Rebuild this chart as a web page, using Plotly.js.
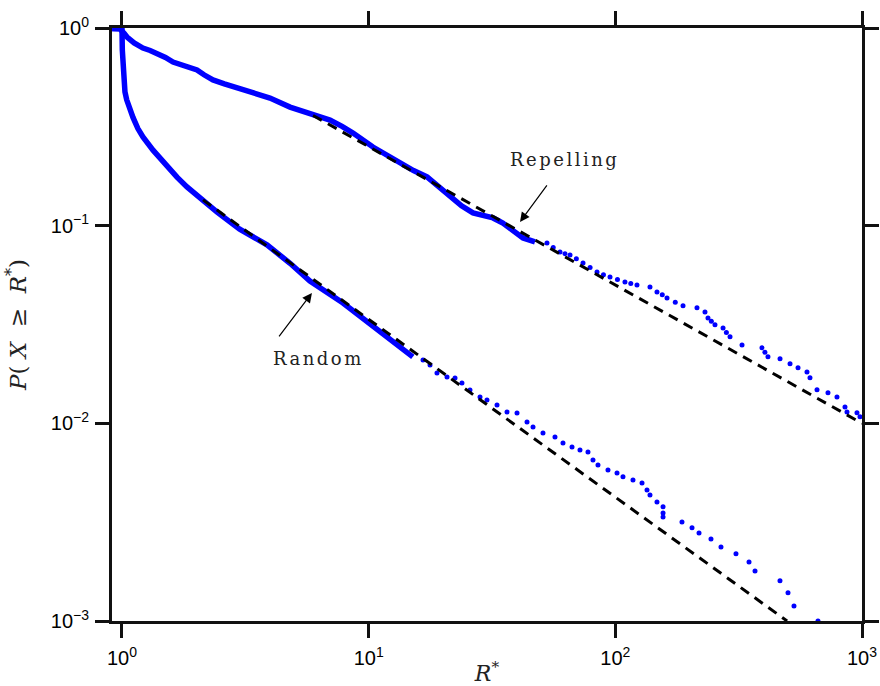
<!DOCTYPE html>
<html>
<head>
<meta charset="utf-8">
<script src="https://cdn.plot.ly/plotly-3.0.1.min.js"></script>
<style>html,body{margin:0;padding:0;background:#fff;}#chart{width:880px;height:686px;}</style>
</head>
<body>
<div id="chart"></div>
<script>
// ---- Random: dense (continuous) part ----
var randomLineX = [0.91, 1.0, 1.003, 1.009, 1.019, 1.028, 1.045, 1.077, 1.108, 1.16, 1.216, 1.336, 1.426, 1.52, 1.671, 1.834, 2.07, 2.43, 3.0, 3.87, 4.8, 5.78, 7.87, 10.8, 15.1];
var randomLineY = [0.995, 0.99, 0.774, 0.635, 0.527, 0.475, 0.433, 0.385, 0.353, 0.31, 0.281, 0.241, 0.22, 0.198, 0.176, 0.157, 0.138, 0.117, 0.096, 0.080, 0.0645, 0.0525, 0.0406, 0.0297, 0.0217];
// ---- Random: sparse tail ----
var randomTailX = [16.61, 17.73, 18.92, 20.78, 22.39, 23.89, 25.75, 28.28, 30.18, 33.14, 36.38, 39.94, 43.85, 46.37, 50.9, 56.93, 61.35, 66.73, 71.9, 77.47, 81.17, 85.05, 93.37, 101.6, 107.4, 117.9, 128.3, 134.4, 138.2, 147.5, 156.1, 156.1, 156.1, 186.3, 204.6, 218.4, 244.2, 268.1, 308.4, 348.3, 368.4, 465.1, 501.2, 530.0, 663.1];
var randomTailY = [0.02093, 0.01975, 0.01799, 0.01717, 0.01697, 0.01601, 0.01476, 0.0136, 0.01313, 0.01239, 0.01142, 0.01129, 0.01017, 0.00959, 0.00894, 0.00854, 0.00796, 0.0076, 0.00734, 0.00717, 0.00653, 0.00616, 0.00581, 0.00561, 0.00536, 0.00517, 0.00499, 0.0046, 0.00434, 0.004, 0.00378, 0.00352, 0.00336, 0.00317, 0.00296, 0.00279, 0.0026, 0.00237, 0.00219, 0.00199, 0.00179, 0.0016, 0.00139, 0.00119, 0.001];
// ---- Repelling: dense part ----
var repelLineX = [0.91, 0.981, 1.02, 1.048, 1.12, 1.216, 1.3, 1.386, 1.5, 1.61, 1.8, 2.014, 2.15, 2.338, 2.6, 2.925, 3.4, 3.98, 4.8, 5.78, 6.97, 7.8, 8.64, 10.41, 11.8, 13.4, 15.2, 17.24, 19.2, 21.37, 23.8, 26.48, 28.9, 31.92, 35.0, 38.46, 42.23, 47.24];
var repelLineY = [0.995, 0.99, 0.94, 0.9, 0.84, 0.792, 0.77, 0.747, 0.71, 0.673, 0.645, 0.613, 0.58, 0.546, 0.522, 0.497, 0.47, 0.442, 0.398, 0.372, 0.342, 0.318, 0.294, 0.25, 0.228, 0.2076, 0.19, 0.1764, 0.157, 0.1397, 0.126, 0.116, 0.1125, 0.1094, 0.103, 0.0951, 0.0867, 0.0827];
// ---- Repelling: sparse tail ----
var repelTailX = [52.84, 56.0, 59.66, 62.5, 65.51, 69.5, 73.96, 79.0, 84.27, 89.5, 95.15, 102.0, 109.4, 115.5, 122.4, 138.2, 147.5, 155.0, 162.0, 175.0, 188.1, 214.3, 230.9, 237.5, 245.0, 253.5, 273.3, 282.0, 291.7, 326.3, 393.1, 404.0, 415.7, 465.2, 510.7, 550.3, 598.4, 615.4, 657.0, 727.9, 791.7, 853.1, 869.2, 954.3, 981.3];
var repelTailY = [0.0817, 0.0775, 0.0736, 0.0722, 0.0711, 0.068, 0.0648, 0.0615, 0.0583, 0.0565, 0.055, 0.0534, 0.0519, 0.051, 0.0501, 0.049, 0.0462, 0.0447, 0.0431, 0.041, 0.0393, 0.0384, 0.0366, 0.0341, 0.0328, 0.0315, 0.0304, 0.0288, 0.0274, 0.0249, 0.0241, 0.0229, 0.0217, 0.0212, 0.02, 0.0191, 0.0182, 0.017, 0.0148, 0.0143, 0.0136, 0.0121, 0.0114, 0.0113, 0.0108];
// ---- Power-law fit lines (endpoints) ----
var repelFitX = [5.95, 1000];
var repelFitY = [0.361, 0.01];
var randomFitX = [2.13, 497];
var randomFitY = [0.135, 0.001];
// ---- Ticks ----
var xTickVals = [1, 10, 100, 1000];
var xTickText = ['10<sup>0</sup>', '10<sup>1</sup>', '10<sup>2</sup>', '10<sup>3</sup>'];
var yTickVals = [1, 0.1, 0.01, 0.001];
var yTickText = ['10<sup>0</sup>', '10<sup>\u22121</sup>', '10<sup>\u22122</sup>', '10<sup>\u22123</sup>'];
// ---- Annotation anchors (data values) ----
var repelArrowHead = [41.07, 0.1044];
var randomArrowHead = [5.89, 0.0457];
var repelLabelPos = [62.5, 0.215];
var randomLabelPos = [6.29, 0.0214];

var blue = '#0000ff';
var traces = [
  {x: randomLineX, y: randomLineY, mode: 'lines', line: {color: blue, width: 5.5}, hoverinfo: 'skip', cliponaxis: false},
  {x: randomTailX, y: randomTailY, mode: 'markers', marker: {color: blue, size: 5}, hoverinfo: 'skip', cliponaxis: false},
  {x: repelLineX, y: repelLineY, mode: 'lines', line: {color: blue, width: 5.5}, hoverinfo: 'skip', cliponaxis: false},
  {x: repelTailX, y: repelTailY, mode: 'markers', marker: {color: blue, size: 5}, hoverinfo: 'skip', cliponaxis: false},
  {x: repelFitX, y: repelFitY, mode: 'lines', line: {color: '#000', width: 3, dash: '10px,7px'}, hoverinfo: 'skip'},
  {x: randomFitX, y: randomFitY, mode: 'lines', line: {color: '#000', width: 3, dash: '10px,7px'}, hoverinfo: 'skip'}
];

var tickFont = {family: 'Liberation Sans, Arial, sans-serif', size: 20, color: '#000'};
var serif = 'DejaVu Serif, serif';
var axisCommon = {
  type: 'log', showgrid: false, zeroline: false,
  showline: true, linecolor: '#111', linewidth: 3,
  mirror: 'ticks', ticks: 'outside', ticklen: 14, tickwidth: 3, tickcolor: '#111',
  tickfont: tickFont
};

var layout = {
  width: 880, height: 686,
  margin: {l: 112, r: 18, t: 28, b: 65},
  paper_bgcolor: '#fff', plot_bgcolor: '#fff',
  showlegend: false,
  xaxis: Object.assign({}, axisCommon, {
    range: [-0.0405, 3],
    tickvals: xTickVals, ticktext: xTickText,
    ticklabelstandoff: 3,
    title: {text: '<i>R</i><sup>*</sup>', font: {family: serif, size: 22, color: '#222'}, standoff: 0}
  }),
  yaxis: Object.assign({}, axisCommon, {
    range: [-3, 0],
    tickvals: yTickVals, ticktext: yTickText,
    ticklabelstandoff: 2,
    title: {text: '<i>P</i>( <i>X</i>  \u2265  <i>R</i><sup>*</sup>)', font: {family: serif, size: 23, color: '#222'}, standoff: 18}
  }),
  annotations: [
    {x: Math.log10(repelArrowHead[0]), y: Math.log10(repelArrowHead[1]), xref: 'x', yref: 'y', text: '', showarrow: true,
     arrowhead: 2, arrowsize: 1.6, arrowwidth: 1.2, arrowcolor: '#000', ax: 28, ay: -38, standoff: 0},
    {x: Math.log10(randomArrowHead[0]), y: Math.log10(randomArrowHead[1]), xref: 'x', yref: 'y', text: '', showarrow: true,
     arrowhead: 2, arrowsize: 1.6, arrowwidth: 1.2, arrowcolor: '#000', ax: -34, ay: 45, standoff: 0},
    {x: Math.log10(repelLabelPos[0]), y: Math.log10(repelLabelPos[1]), xref: 'x', yref: 'y', showarrow: false,
     text: '<span style="letter-spacing:2.5px">Repelling</span>', font: {family: serif, size: 18, color: '#222'}},
    {x: Math.log10(randomLabelPos[0]), y: Math.log10(randomLabelPos[1]), xref: 'x', yref: 'y', showarrow: false,
     text: '<span style="letter-spacing:2.5px">Random</span>', font: {family: serif, size: 18, color: '#222'}}
  ]
};

Plotly.newPlot('chart', traces, layout, {staticPlot: true, displayModeBar: false});
</script>
</body>
</html>
